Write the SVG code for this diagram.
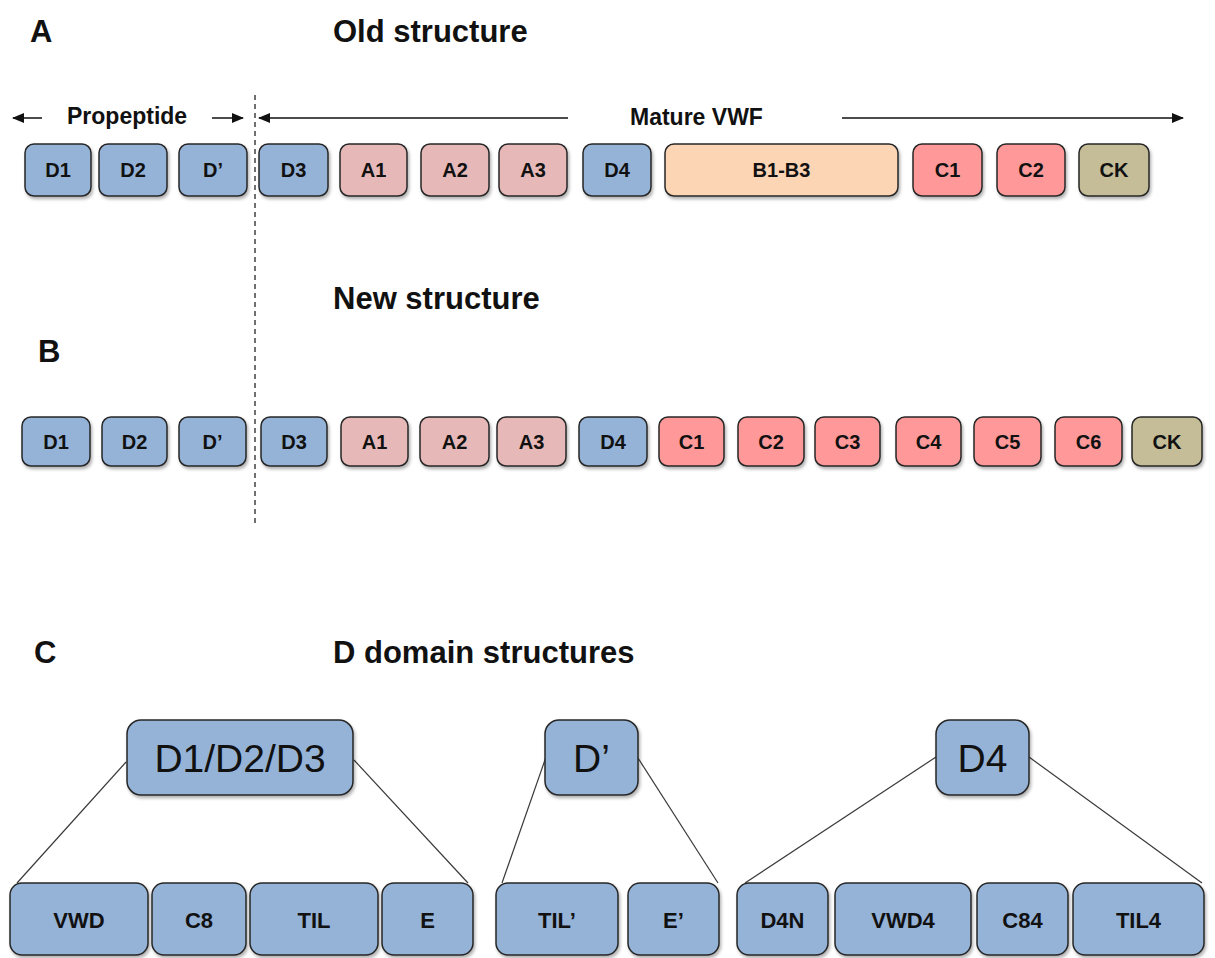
<svg xmlns="http://www.w3.org/2000/svg" width="1215" height="958" viewBox="0 0 1215 958">
<style>
text{font-family:"Liberation Sans",Arial,sans-serif;fill:#111}
.t{font-size:31px;font-weight:bold}
.s{font-size:23px;font-weight:bold}
.l{font-size:20px;font-weight:bold;text-anchor:middle;dominant-baseline:central}
.lc{font-size:22px;font-weight:bold;text-anchor:middle;dominant-baseline:central}
.big{font-size:39px;text-anchor:middle;dominant-baseline:central}
rect{stroke:#262626;stroke-width:1.5;filter:url(#sh)}
.b{fill:#95B3D7}.p{fill:#E6B9B8}.o{fill:#FCD5B5}.r{fill:#FF9999}.k{fill:#C4BD97}
.ln{stroke:#111;stroke-width:1.5;fill:none}
.cn{stroke:#3a3a3a;stroke-width:1.2;fill:none}
</style>
<defs>
<filter id="sh" x="-20%" y="-20%" width="140%" height="150%"><feDropShadow dx="1.5" dy="2.5" stdDeviation="1.8" flood-color="#000" flood-opacity="0.3"/></filter>
<marker id="ah" viewBox="0 0 12 10" refX="11" refY="5" markerWidth="12" markerHeight="10" markerUnits="userSpaceOnUse" orient="auto"><path d="M0,0 L12,5 L0,10 z" fill="#111"/></marker>
</defs>

<g id="titles">
<text class="t" x="30" y="42">A</text>
<text class="t" x="333" y="42">Old structure</text>
<text class="t" x="38" y="362">B</text>
<text class="t" x="333" y="309">New structure</text>
<text class="t" x="34" y="663">C</text>
<text class="t" x="333" y="663">D domain  structures</text>
<text class="s" x="67" y="124">Propeptide</text>
<text class="s" x="630" y="125">Mature VWF</text>
</g>

<g id="connectors">
<line class="ln" x1="42" y1="118" x2="13" y2="118" marker-end="url(#ah)"/>
<line class="ln" x1="212" y1="118" x2="243" y2="118" marker-end="url(#ah)"/>
<line class="ln" x1="568" y1="118" x2="259" y2="118" marker-end="url(#ah)"/>
<line class="ln" x1="842" y1="118" x2="1183" y2="118" marker-end="url(#ah)"/>
<line x1="255" y1="95" x2="255" y2="525" stroke="#111" stroke-width="1.2" stroke-dasharray="5,4"/>
<line class="cn" x1="126" y1="762" x2="17" y2="883"/>
<line class="cn" x1="354" y1="760" x2="468" y2="883"/>
<line class="cn" x1="546" y1="757" x2="502" y2="883"/>
<line class="cn" x1="638" y1="758" x2="718" y2="883"/>
<line class="cn" x1="936" y1="757" x2="745" y2="883"/>
<line class="cn" x1="1029" y1="757" x2="1202" y2="883"/>
</g>

<g id="rowA">
<g id="a-d1"><rect class="b" x="25" y="144" width="66" height="52" rx="9"/><text class="l" x="58" y="170">D1</text></g>
<g id="a-d2"><rect class="b" x="99" y="144" width="68" height="52" rx="9"/><text class="l" x="133" y="170">D2</text></g>
<g id="a-dp"><rect class="b" x="179" y="144" width="68" height="52" rx="9"/><text class="l" x="213" y="170">D’</text></g>
<g id="a-d3"><rect class="b" x="259" y="144" width="69" height="52" rx="9"/><text class="l" x="293.5" y="170">D3</text></g>
<g id="a-a1"><rect class="p" x="340" y="144" width="67" height="52" rx="9"/><text class="l" x="373.5" y="170">A1</text></g>
<g id="a-a2"><rect class="p" x="421" y="144" width="68" height="52" rx="9"/><text class="l" x="455" y="170">A2</text></g>
<g id="a-a3"><rect class="p" x="499" y="144" width="68" height="52" rx="9"/><text class="l" x="533" y="170">A3</text></g>
<g id="a-d4"><rect class="b" x="583" y="144" width="68" height="52" rx="9"/><text class="l" x="617" y="170">D4</text></g>
<g id="a-b"><rect class="o" x="665" y="144" width="233" height="52" rx="9"/><text class="l" x="781.5" y="170">B1-B3</text></g>
<g id="a-c1"><rect class="r" x="913" y="144" width="69" height="52" rx="9"/><text class="l" x="947.5" y="170">C1</text></g>
<g id="a-c2"><rect class="r" x="997" y="144" width="68" height="52" rx="9"/><text class="l" x="1031" y="170">C2</text></g>
<g id="a-ck"><rect class="k" x="1079" y="144" width="70" height="52" rx="9"/><text class="l" x="1114" y="170">CK</text></g>
</g>

<g id="rowB">
<g id="b-d1"><rect class="b" x="22" y="417" width="68" height="49" rx="9"/><text class="l" x="56" y="441.5">D1</text></g>
<g id="b-d2"><rect class="b" x="102" y="417" width="65" height="49" rx="9"/><text class="l" x="134.5" y="441.5">D2</text></g>
<g id="b-dp"><rect class="b" x="179" y="417" width="67" height="49" rx="9"/><text class="l" x="212.5" y="441.5">D’</text></g>
<g id="b-d3"><rect class="b" x="261" y="417" width="66" height="49" rx="9"/><text class="l" x="294" y="441.5">D3</text></g>
<g id="b-a1"><rect class="p" x="341" y="417" width="67" height="49" rx="9"/><text class="l" x="374.5" y="441.5">A1</text></g>
<g id="b-a2"><rect class="p" x="420" y="417" width="69" height="49" rx="9"/><text class="l" x="454.5" y="441.5">A2</text></g>
<g id="b-a3"><rect class="p" x="497" y="417" width="69" height="49" rx="9"/><text class="l" x="531.5" y="441.5">A3</text></g>
<g id="b-d4"><rect class="b" x="579" y="417" width="68" height="49" rx="9"/><text class="l" x="613" y="441.5">D4</text></g>
<g id="b-c1"><rect class="r" x="659" y="417" width="65" height="49" rx="9"/><text class="l" x="691.5" y="441.5">C1</text></g>
<g id="b-c2"><rect class="r" x="738" y="417" width="66" height="49" rx="9"/><text class="l" x="771" y="441.5">C2</text></g>
<g id="b-c3"><rect class="r" x="815" y="417" width="65" height="49" rx="9"/><text class="l" x="847.5" y="441.5">C3</text></g>
<g id="b-c4"><rect class="r" x="896" y="417" width="65" height="49" rx="9"/><text class="l" x="928.5" y="441.5">C4</text></g>
<g id="b-c5"><rect class="r" x="974" y="417" width="67" height="49" rx="9"/><text class="l" x="1007.5" y="441.5">C5</text></g>
<g id="b-c6"><rect class="r" x="1055" y="417" width="67" height="49" rx="9"/><text class="l" x="1088.5" y="441.5">C6</text></g>
<g id="b-ck"><rect class="k" x="1132" y="417" width="70" height="49" rx="9"/><text class="l" x="1167" y="441.5">CK</text></g>
</g>

<g id="rowC">
<g id="c-d123"><rect class="b" x="127" y="720" width="226" height="75" rx="14"/><text class="big" x="240" y="758">D1/D2/D3</text></g>
<g id="c-dp"><rect class="b" x="545" y="720" width="93" height="75" rx="14"/><text class="big" x="591.5" y="758">D’</text></g>
<g id="c-d4"><rect class="b" x="936" y="720" width="93" height="75" rx="14"/><text class="big" x="982.5" y="758">D4</text></g>
<g id="c-vwd"><rect class="b" x="10" y="883" width="138" height="72" rx="12"/><text class="lc" x="79" y="920">VWD</text></g>
<g id="c-c8"><rect class="b" x="152" y="883" width="94" height="72" rx="12"/><text class="lc" x="199" y="920">C8</text></g>
<g id="c-til"><rect class="b" x="250" y="883" width="128" height="72" rx="12"/><text class="lc" x="314" y="920">TIL</text></g>
<g id="c-e"><rect class="b" x="382" y="883" width="91" height="72" rx="12"/><text class="lc" x="427.5" y="920">E</text></g>
<g id="c-tilp"><rect class="b" x="496" y="883" width="122" height="72" rx="12"/><text class="lc" x="557" y="920">TIL’</text></g>
<g id="c-ep"><rect class="b" x="628" y="883" width="91" height="72" rx="12"/><text class="lc" x="673.5" y="920">E’</text></g>
<g id="c-d4n"><rect class="b" x="737" y="883" width="91" height="72" rx="12"/><text class="lc" x="782.5" y="920">D4N</text></g>
<g id="c-vwd4"><rect class="b" x="835" y="883" width="136" height="72" rx="12"/><text class="lc" x="903" y="920">VWD4</text></g>
<g id="c-c84"><rect class="b" x="977" y="883" width="91" height="72" rx="12"/><text class="lc" x="1022.5" y="920">C84</text></g>
<g id="c-til4"><rect class="b" x="1073" y="883" width="131" height="72" rx="12"/><text class="lc" x="1138.5" y="920">TIL4</text></g>
</g>
</svg>
